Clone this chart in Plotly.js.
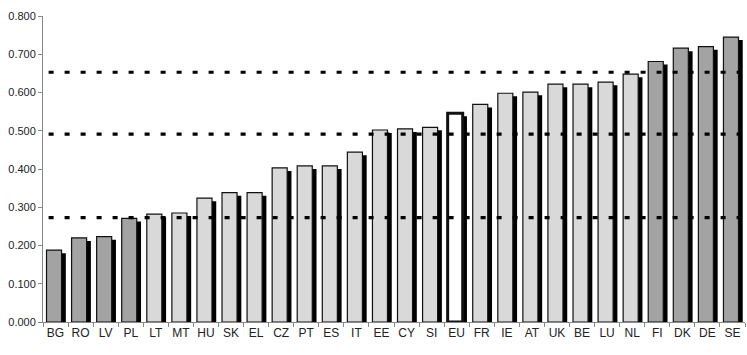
<!DOCTYPE html>
<html><head><meta charset="utf-8">
<script src="https://cdn.plot.ly/plotly-3.0.1.min.js"></script>
<style>html,body{margin:0;padding:0;background:#fff}#c{width:747px;height:355px}</style>
</head><body><div id="c"></div>
<script>
const countries = ["BG","RO","LV","PL","LT","MT","HU","SK","EL","CZ","PT","ES","IT","EE","CY","SI","EU","FR","IE","AT","UK","BE","LU","NL","FI","DK","DE","SE"];
const values = [0.188,0.220,0.223,0.271,0.282,0.285,0.324,0.338,0.338,0.403,0.408,0.408,0.444,0.502,0.505,0.509,0.546,0.569,0.598,0.601,0.622,0.622,0.627,0.648,0.681,0.716,0.720,0.745];
const groups = ["dark","dark","dark","dark","light","light","light","light","light","light","light","light","light","light","light","light","eu","light","light","light","light","light","light","light","dark","dark","dark","dark"];
const thresholds = [0.273, 0.491, 0.653];

const fillMap = {dark:"#a3a3a3", light:"#d9d9d9", eu:"#ffffff"};
const lineW = {dark:1.2, light:1.2, eu:3};

const shadow = {
  type:"bar", x:countries, y:values.map(v=>v-0.008),
  width:0.6, offset:-0.19,
  marker:{color:"#000", line:{width:0}},
  hoverinfo:"skip", showlegend:false
};
const bars = {
  type:"bar", x:countries, y:values,
  width:0.6, offset:-0.36,
  marker:{color:groups.map(g=>fillMap[g]), line:{color:"#111", width:groups.map(g=>lineW[g])}},
  showlegend:false
};
const shapes = thresholds.map(t=>({
  type:"line", xref:"paper", x0:0.008, x1:1, yref:"y", y0:t, y1:t,
  line:{color:"#000", width:3.2, dash:"5px,11px"}, layer:"above"
}));

const layout = {
  width:747, height:355,
  margin:{l:43, r:2, t:16, b:33},
  paper_bgcolor:"#fff", plot_bgcolor:"#fff",
  barmode:"overlay",
  font:{family:"Liberation Sans, Arial, sans-serif", size:11, color:"#222"},
  xaxis:{type:"category", showline:true, linecolor:"#888", linewidth:1,
    ticks:"outside", tickson:"boundaries", ticklen:4, tickcolor:"#888",
    showgrid:false, range:[-0.5, 27.5], tickangle:0, tickfont:{size:12}},
  yaxis:{range:[0,0.8], dtick:0.1, tickformat:".3f", showline:true, linecolor:"#888",
    ticks:"outside", ticklen:4, tickcolor:"#888", showgrid:false, zeroline:false,
    tickfont:{size:11}},
  shapes:shapes
};
Plotly.newPlot("c",[shadow,bars],layout,{displayModeBar:false,staticPlot:true});
</script></body></html>
